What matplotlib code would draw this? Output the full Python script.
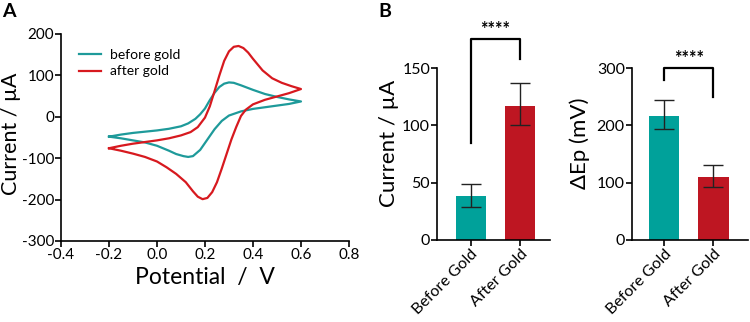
import matplotlib
matplotlib.use("Agg")
import matplotlib.pyplot as plt

plt.rcParams['font.family'] = ['Lato', 'DejaVu Sans']
plt.rcParams['axes.unicode_minus'] = False

# CV curves (potential V, current uA)
before_fwd_E = [-0.20, -0.15, -0.10, -0.05, 0.00, 0.05, 0.10, 0.13, 0.16, 0.18, 0.20, 0.22, 0.24, 0.26, 0.28, 0.30, 0.32, 0.35, 0.40, 0.45, 0.50, 0.55, 0.60]
before_fwd_I = [-48, -43, -39, -36, -33, -29, -23, -16, -5, 6, 20, 40, 58, 72, 80, 83, 82, 76, 65, 55, 48, 42, 37]
before_rev_E = [0.60, 0.55, 0.50, 0.45, 0.40, 0.35, 0.30, 0.27, 0.24, 0.21, 0.18, 0.15, 0.13, 0.11, 0.08, 0.05, 0.00, -0.05, -0.10, -0.15, -0.20]
before_rev_I = [37, 31, 27, 23, 19, 13, 3, -10, -30, -55, -80, -95, -97, -95, -90, -82, -70, -62, -57, -52, -48]

after_fwd_E = [-0.20, -0.15, -0.10, -0.05, 0.00, 0.05, 0.10, 0.14, 0.17, 0.20, 0.22, 0.24, 0.26, 0.28, 0.30, 0.32, 0.34, 0.36, 0.38, 0.40, 0.44, 0.48, 0.52, 0.56, 0.60]
after_fwd_I = [-76, -70, -65, -61, -57, -52, -45, -37, -25, -2, 25, 62, 100, 135, 158, 169, 171, 166, 155, 140, 112, 93, 82, 74, 67]
after_rev_E = [0.60, 0.55, 0.50, 0.45, 0.40, 0.37, 0.35, 0.33, 0.31, 0.29, 0.27, 0.25, 0.23, 0.21, 0.19, 0.17, 0.15, 0.12, 0.08, 0.04, 0.00, -0.05, -0.10, -0.15, -0.20]
after_rev_I = [67, 57, 49, 41, 30, 17, 2, -25, -55, -90, -125, -158, -182, -196, -199, -193, -180, -158, -138, -122, -108, -97, -89, -82, -76]

# bar data
groups = ["Before Gold", "After Gold"]
current_mean = [38, 117]
current_err_lo = [9, 17]
current_err_hi = [11, 20]
dep_mean = [216, 110]
dep_err_lo = [23, 17]
dep_err_hi = [28, 20]

teal_line = '#1E9A9A'
red_line = '#D7191F'
teal_bar = '#00A19A'
red_bar = '#BE1622'

fig = plt.figure(figsize=(7.5, 3.22), dpi=100)

# ---- panel A ----
ax = fig.add_axes([0.0813, 0.2516, 0.384, 0.6429])
ax.plot(before_fwd_E + before_rev_E, before_fwd_I + before_rev_I, color=teal_line, lw=1.6, label='before gold')
ax.plot(after_fwd_E + after_rev_E, after_fwd_I + after_rev_I, color=red_line, lw=1.6, label='after gold')
ax.set_xlim(-0.4, 0.8)
ax.set_ylim(-300, 200)
ax.set_xticks([-0.4, -0.2, 0.0, 0.2, 0.4, 0.6, 0.8])
ax.set_yticks([-300, -200, -100, 0, 100, 200])
ax.set_xticklabels(['-0.4', '-0.2', '0.0', '0.2', '0.4', '0.6', '0.8'])
ax.set_xlabel('Potential  /  V', fontsize=16.5, labelpad=4)
ax.set_ylabel('Current / µA', fontsize=15.5)
ax.yaxis.set_label_coords(-0.14, 0.52)
ax.legend(frameon=False, loc='upper left', bbox_to_anchor=(0.02, 0.99), fontsize=10,
          handlelength=1.6, handletextpad=0.6, labelspacing=0.35)
ax.tick_params(labelsize=11)

# ---- panel B ----
ax1 = fig.add_axes([0.5827, 0.2547, 0.1507, 0.534])
ax2 = fig.add_axes([0.8423, 0.2547, 0.155, 0.534])

x = [0, 1]
for a, mean, lo, hi in [(ax1, current_mean, current_err_lo, current_err_hi),
                        (ax2, dep_mean, dep_err_lo, dep_err_hi)]:
    a.bar(x, mean, width=0.61, color=[teal_bar, red_bar])
    a.errorbar(x, mean, yerr=[lo, hi], fmt='none', ecolor='#222222', elinewidth=1, capsize=7, capthick=1)
    a.set_xticks(x)
    a.set_xticklabels(groups, rotation=45, ha='right', rotation_mode='anchor', fontsize=11.5)
    a.tick_params(labelsize=11.5)

ax1.set_xlim(-0.68, 1.6)
ax1.set_ylim(0, 150)
ax1.set_yticks([0, 50, 100, 150])
ax1.set_ylabel('Current / µA', fontsize=16)
ax1.yaxis.set_label_coords(-0.34, 0.56)
ax2.set_xlim(-0.66, 1.7)
ax2.set_ylim(0, 300)
ax2.set_yticks([0, 100, 200, 300])
ax2.set_ylabel('ΔEp (mV)', fontsize=16)
ax2.yaxis.set_label_coords(-0.36, 0.56)

# significance brackets
ax1.plot([0, 0, 1, 1], [85, 175, 175, 158], color='black', lw=1.6, clip_on=False)
ax1.text(0.5, 176, '****', ha='center', va='bottom', fontsize=13, fontweight='bold')
ax2.plot([0, 0, 1, 1], [279, 300, 300, 249], color='black', lw=1.6, clip_on=False)
ax2.text(0.5, 301, '****', ha='center', va='bottom', fontsize=13, fontweight='bold')

for a in [ax, ax1, ax2]:
    for s in ['top', 'right']:
        a.spines[s].set_visible(False)
    a.spines['left'].set_linewidth(1.2)
    a.spines['bottom'].set_linewidth(1.2)
    a.tick_params(length=4, width=1.2, pad=1)

fig.text(0.003, 0.99, 'A', fontsize=14, fontweight='bold', va='top')
fig.text(0.505, 0.99, 'B', fontsize=14, fontweight='bold', va='top')

fig.savefig('out.png', dpi=100)
